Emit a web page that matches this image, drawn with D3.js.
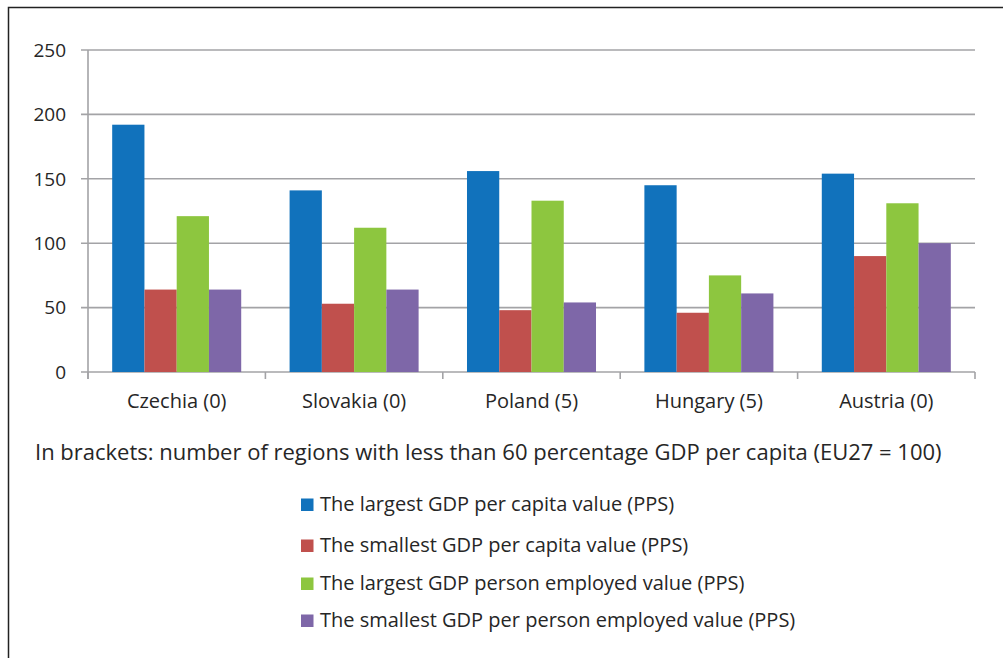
<!DOCTYPE html>
<html><head><meta charset="utf-8">
<script src="https://cdn.jsdelivr.net/npm/d3@7"></script>
<style>body{margin:0;background:#fff}svg{display:block}</style>
</head><body>
<svg id="c" width="1003" height="658"></svg>
<script>
const categories = ["Czechia (0)", "Slovakia (0)", "Poland (5)", "Hungary (5)", "Austria (0)"];
const seriesNames = [
  "The largest GDP per capita value (PPS)",
  "The smallest GDP per capita value (PPS)",
  "The largest GDP person employed value (PPS)",
  "The smallest GDP per person employed value (PPS)"
];
const largestPerCapita = [192, 141, 156, 145, 154];
const smallestPerCapita = [64, 53, 48, 46, 90];
const largestPerEmployed = [121, 112, 133, 75, 131];
const smallestPerEmployed = [64, 64, 54, 61, 100];
const yTicks = [0, 50, 100, 150, 200, 250];
const colors = ["#1172bc", "#c0504d", "#8dc63f", "#7e67a8"];
const note = "In brackets: number of regions with less than 60 percentage GDP per capita (EU27 = 100)";

(function () {
const series = [largestPerCapita, smallestPerCapita, largestPerEmployed, smallestPerEmployed];
const FONT = "'Open Sans', sans-serif";
const TXT = "#262626";
const svg = d3.select("#c");

svg.append("rect").attr("x", 8.5).attr("y", 7.5).attr("width", 1010).attr("height", 700)
  .attr("fill", "none").attr("stroke", "#222").attr("stroke-width", 1.5);

const pLeft = 88, pRight = 975, pTop = 50, pBottom = 372;
const x = d3.scaleBand().domain(categories).range([pLeft, pRight]).paddingInner(0).paddingOuter(0);
const y = d3.scaleLinear().domain([0, 250]).range([pBottom, pTop]);
const inner = d3.scaleBand().domain(d3.range(4)).range([0, x.bandwidth()]).paddingInner(0).paddingOuter(0.75);

// gridlines
svg.append("g").selectAll("line").data(yTicks).join("line")
  .attr("x1", pLeft - 7).attr("x2", pRight)
  .attr("y1", d => y(d)).attr("y2", d => y(d))
  .attr("stroke", "#a3a3a6").attr("stroke-width", 1.6);

// y axis line
svg.append("line").attr("x1", pLeft).attr("x2", pLeft).attr("y1", pTop).attr("y2", pBottom + 7)
  .attr("stroke", "#a3a3a6").attr("stroke-width", 1.6);

// x tick marks
const bounds = categories.map(c => x(c)).concat([pRight]);
svg.append("g").selectAll("line").data(bounds).join("line")
  .attr("x1", d => d).attr("x2", d => d).attr("y1", pBottom).attr("y2", pBottom + 7)
  .attr("stroke", "#a3a3a6").attr("stroke-width", 1.6);

// bars
const g = svg.append("g");
series.forEach((vals, si) => {
  g.append("g").selectAll("rect").data(vals).join("rect")
    .attr("x", (d, i) => x(categories[i]) + inner(si))
    .attr("width", inner.bandwidth())
    .attr("y", d => y(d))
    .attr("height", d => y(0) - y(d))
    .attr("fill", colors[si]);
});

// y labels
svg.append("g").selectAll("text").data(yTicks).join("text")
  .attr("x", 66).attr("y", d => y(d)).attr("dy", "0.36em")
  .attr("text-anchor", "end").attr("font-family", FONT).attr("font-size", 19).attr("fill", TXT)
  .text(d => d);

// x labels
svg.append("g").selectAll("text").data(categories).join("text")
  .attr("x", d => x(d) + x.bandwidth() / 2).attr("y", 408)
  .attr("text-anchor", "middle").attr("font-family", FONT).attr("font-size", 20).attr("fill", TXT)
  .text(d => d);

// note
svg.append("text").attr("x", 35).attr("y", 460).attr("font-family", FONT).attr("font-size", 22)
  .attr("fill", TXT).text(note);

// legend
const legY = [511, 552, 590, 627];
const leg = svg.append("g").selectAll("g").data(seriesNames).join("g")
  .attr("transform", (d, i) => `translate(301,${legY[i]})`);
leg.append("rect").attr("x", 0).attr("y", -12.5).attr("width", 12.5).attr("height", 12.5)
  .attr("fill", (d, i) => colors[i]);
leg.append("text").attr("x", 19).attr("y", 0)
  .attr("font-family", FONT).attr("font-size", 20).attr("fill", TXT).text(d => d);
})();
</script>
</body></html>
